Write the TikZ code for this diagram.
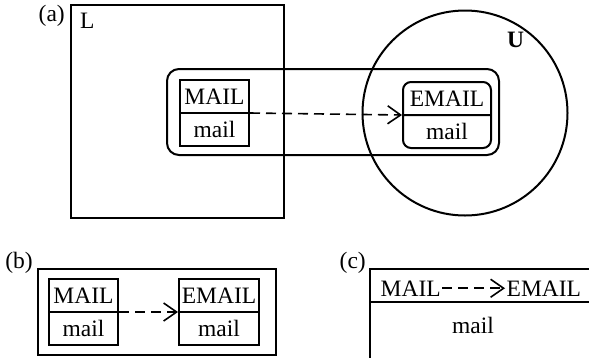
\documentclass[tikz,border=0pt]{standalone}
\usepackage{fontspec}
\setmainfont{Liberation Serif}
\usetikzlibrary{shapes.multipart, arrows.meta, positioning}
\newcommand{\cellstrut}{\rule[-7.5pt]{0pt}{31pt}}
\tikzset{
  frame/.style={
    rectangle, draw, line width=2pt, inner sep=0pt
  },
  cell/.style={
    rectangle split, rectangle split parts=2, draw, line width=2pt,
    inner xsep=2pt, inner ysep=0pt, minimum width=69pt
  },
  roundcell/.style={cell, rounded corners=8pt},
  tag/.style={inner sep=0pt},
  arrow/.style={line width=1.6pt, dash pattern=on 10pt off 6pt,
    -{Straight Barb[length=13pt,width=18pt]}},
}
\begin{document}
\begin{tikzpicture}[x=1pt, y=-1pt, font=\fontsize{23.5}{28}\selectfont]
  \useasboundingbox (0,0) rectangle (589,357);

  % (a)
  \node (L)    [frame, minimum size=213pt]                      at (177.5,111.5) {};
  \node (grp)  [frame, rounded corners=12pt,
                minimum width=332pt, minimum height=86pt]        at (333,112) {};
  \node (U)    [circle, draw, line width=2pt, inner sep=0pt,
                minimum size=205pt]                             at (465,113) {};
  \node (labA) [tag, anchor=base east]                          at (65,21) {(a)};
  \node (labL) [tag, anchor=base west]                          at (80,28) {L};
  \node (labU) [tag, anchor=base west, font=\fontsize{23.5}{28}\selectfont\bfseries]
                                                                at (507,47) {U};
  \node (mailA)  [cell, anchor=north west]                      at (179,79)
    {\cellstrut MAIL\nodepart{two}\cellstrut mail};
  \node (emailA) [roundcell, minimum width=88pt, anchor=north west] at (402,81)
    {\cellstrut EMAIL\nodepart{two}\cellstrut mail};

  \draw [arrow] (mailA.text split east) -- (emailA.text split west);

  % (b)
  \node (B)    [frame, minimum width=238pt, minimum height=86pt,
                anchor=north west]                              at (37,268) {};
  \node (labB) [tag, anchor=base east]                          at (33,268) {(b)};
  \node (mailB)  [cell, anchor=north west]                      at (48,278)
    {\cellstrut MAIL\nodepart{two}\cellstrut mail};
  \node (emailB) [cell, minimum width=80pt, anchor=north west]  at (178,278)
    {\cellstrut EMAIL\nodepart{two}\cellstrut mail};

  \draw [arrow] (mailB.text split east) -- (emailB.text split west);

  % (c)
  \node (C)    [cell, minimum width=226pt, anchor=north west]   at (369,268)
    {\rule[-3pt]{0pt}{31pt}\nodepart{two}\rule[-21pt]{0pt}{55pt}};
  \node (labC) [tag, anchor=base east]                          at (366,268) {(c)};
  \node (mailC)  [tag, inner xsep=1.5pt, anchor=base west]      at (379,296) {MAIL};
  \node (emailC) [tag, inner xsep=1.5pt, anchor=base west]      at (505,296) {EMAIL};
  \node (lowC)   [tag, anchor=base]                             at (473,333) {mail};

  \draw [arrow] (mailC.east) -- (emailC.west);
\end{tikzpicture}
\end{document}
